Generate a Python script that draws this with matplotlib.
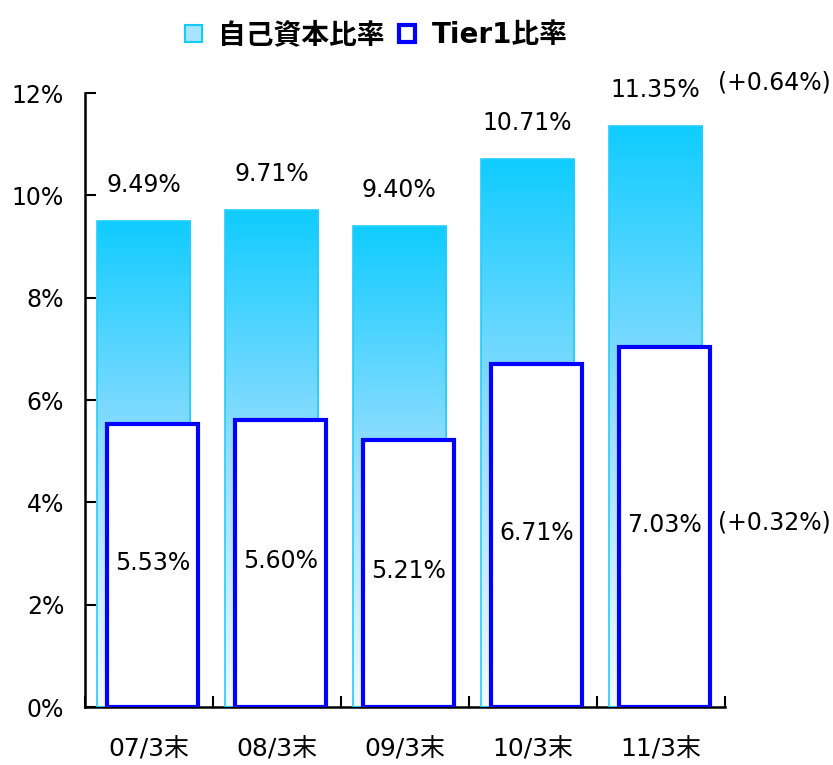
import numpy as np
import matplotlib
matplotlib.use("Agg")
import matplotlib.pyplot as plt
from matplotlib.patches import Patch
from matplotlib.colors import LinearSegmentedColormap

plt.rcParams['font.family'] = ['DejaVu Sans', 'Noto Sans CJK JP']

# データ
categories = ['07/3末', '08/3末', '09/3末', '10/3末', '11/3末']
jiko = [9.49, 9.71, 9.40, 10.71, 11.35]      # 自己資本比率
tier1 = [5.53, 5.60, 5.21, 6.71, 7.03]       # Tier1比率
jiko_labels = ['9.49%', '9.71%', '9.40%', '10.71%', '11.35%']
tier1_labels = ['5.53%', '5.60%', '5.21%', '6.71%', '7.03%']
diff_jiko = '(+0.64%)'
diff_tier1 = '(+0.32%)'

fig = plt.figure(figsize=(8.33, 7.65), dpi=100)
ax = fig.add_axes([0.102, 0.0758, 0.768, 0.8026])

x = np.arange(len(categories))
cmap = LinearSegmentedColormap.from_list('grad', ['#f2faff', '#9adeff', '#10ccff'])
grad = np.linspace(0, 1, 256).reshape(-1, 1)

# 自己資本比率 (グラデーション)
bars = ax.bar(x - 0.043, jiko, width=0.727, color='none', edgecolor='#22ccff', linewidth=1.2, zorder=3)
for b in bars:
    x0, w, h = b.get_x(), b.get_width(), b.get_height()
    im = ax.imshow(grad, cmap=cmap, origin='lower', aspect='auto',
                   extent=[x0, x0 + w, 0, h], zorder=2)
    im.set_clip_path(b)

# Tier1比率
ax.bar(x + 0.027, tier1, width=0.71, color='white', edgecolor='#0000ff', linewidth=3, zorder=4)

for i in range(len(categories)):
    ax.annotate(jiko_labels[i], (x[i] - 0.043, jiko[i]), xytext=(0, 26), textcoords='offset points',
                ha='center', va='center', fontsize=17, zorder=5)
    ax.text(x[i] + 0.027, tier1[i] / 2 + 0.05, tier1_labels[i], ha='center', va='center',
            fontsize=17, zorder=5)

fig.text(0.997, 0.892, diff_jiko, ha='right', va='center', fontsize=17)
fig.text(0.997, 0.317, diff_tier1, ha='right', va='center', fontsize=17)

ax.set_xlim(-0.5, 4.5)
ax.set_ylim(0, 12)
ax.set_yticks(range(0, 13, 2))
ax.set_yticklabels([f'{v}%' for v in range(0, 13, 2)])
ax.set_xticks(x)
ax.set_xticklabels(categories, fontsize=18)
ax.set_xticks(np.arange(-0.5, 5, 1), minor=True)
ax.tick_params(axis='x', which='major', length=0, pad=22)
ax.tick_params(axis='x', which='minor', direction='in', length=8, width=1.5)
ax.tick_params(axis='y', direction='in', length=8, width=1.5, labelsize=17, pad=15)

for s in ['top', 'right']:
    ax.spines[s].set_visible(False)
for s in ['left', 'bottom']:
    ax.spines[s].set_linewidth(1.8)

handles = [Patch(facecolor='#a8e4ff', edgecolor='#11ccff', linewidth=1.5),
           Patch(facecolor='white', edgecolor='#0000ff', linewidth=3)]
fig.legend(handles, ['自己資本比率', 'Tier1比率'], loc='upper center', bbox_to_anchor=(0.452, 1.005),
           ncol=2, frameon=False, prop={'size': 20, 'weight': 'bold'},
           handlelength=0.6, handleheight=0.6, handletextpad=0.6, columnspacing=0.5)

fig.savefig('out.png', dpi=100)
